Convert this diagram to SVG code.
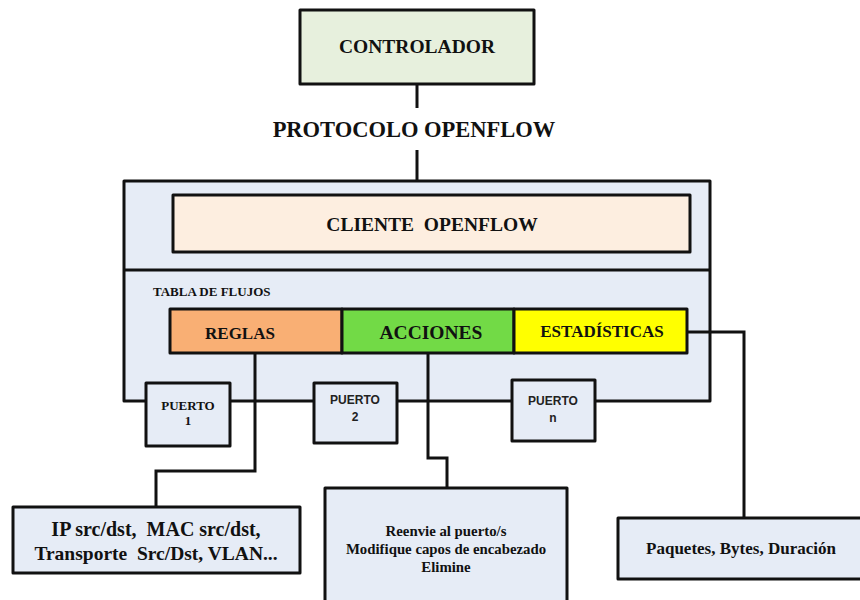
<svg xmlns="http://www.w3.org/2000/svg" width="860" height="600" viewBox="0 0 860 600">
  <style>
    .box { stroke: #111; stroke-width: 3; stroke-linejoin: round; }
    .wire { fill: none; stroke: #111; stroke-width: 3; }
    .tr { font-family: "Liberation Serif", "DejaVu Serif", serif; font-weight: bold; fill: #111; }
    .ar { font-family: "Liberation Sans", "DejaVu Sans", sans-serif; font-weight: bold; fill: #222; }
    .pale { fill: #e6ecf6; }
  </style>

  <rect width="860" height="600" fill="#ffffff"/>

  <!-- Controller -->
  <g id="controlador">
    <rect class="box" x="300" y="10" width="234" height="74" fill="#e7f0dd"/>
    <text class="tr" x="417" y="53" font-size="19.5" text-anchor="middle">CONTROLADOR</text>
  </g>

  <!-- Protocol label -->
  <g id="protocolo">
    <text class="tr" x="414" y="137" font-size="22.5" text-anchor="middle">PROTOCOLO OPENFLOW</text>
  </g>

  <!-- Switch body -->
  <g id="switch">
    <rect class="box pale" x="124" y="181" width="586" height="220"/>
    <line class="wire" x1="124" y1="270" x2="710" y2="270"/>
  </g>

  <g id="cliente">
    <rect class="box" x="173" y="195" width="517" height="57" fill="#fdeee0"/>
    <text class="tr" x="432" y="231" font-size="19.5" text-anchor="middle" xml:space="preserve">CLIENTE  OPENFLOW</text>
  </g>

  <g id="tabla">
    <text class="tr" x="153" y="296" font-size="13" text-anchor="start">TABLA DE FLUJOS</text>
    <rect class="box" x="170" y="309" width="172" height="44" fill="#f9af74"/>
    <rect class="box" x="342" y="309" width="172" height="44" fill="#72da46"/>
    <rect class="box" x="514" y="309" width="173" height="44" fill="#ffff00"/>
    <text class="tr" x="240" y="339" font-size="17" text-anchor="middle">REGLAS</text>
    <text class="tr" x="431" y="339" font-size="19.5" text-anchor="middle">ACCIONES</text>
    <text class="tr" x="602" y="337" font-size="17" text-anchor="middle">ESTADÍSTICAS</text>
  </g>

  <!-- Connectors -->
  <g id="conectores">
    <path class="wire" d="M417 84 V108"/>
    <path class="wire" d="M417 150 V181"/>
    <path class="wire" d="M255 353 V471 H156 V507"/>
    <path class="wire" d="M428 353 V458 H447 V488"/>
    <path class="wire" d="M687 332 H744 V518"/>
  </g>

  <!-- Ports -->
  <g id="puerto1">
    <rect class="box pale" x="146" y="383" width="84" height="63"/>
    <text class="tr" x="188" y="410" font-size="13" text-anchor="middle">PUERTO</text>
    <text class="tr" x="188" y="425" font-size="13" text-anchor="middle">1</text>
  </g>
  <g id="puerto2">
    <rect class="box pale" x="314" y="383" width="83" height="60"/>
    <text class="ar" x="355" y="404" font-size="12" text-anchor="middle">PUERTO</text>
    <text class="ar" x="355" y="421" font-size="12" text-anchor="middle">2</text>
  </g>
  <g id="puerton">
    <rect class="box pale" x="512" y="380" width="83" height="61"/>
    <text class="ar" x="553" y="405" font-size="12" text-anchor="middle">PUERTO</text>
    <text class="ar" x="553" y="422" font-size="12" text-anchor="middle">n</text>
  </g>

  <!-- Detail boxes -->
  <g id="reglas-detalle">
    <rect class="box pale" x="13" y="507" width="287" height="66"/>
    <text class="tr" x="156" y="536" font-size="20" text-anchor="middle" xml:space="preserve">IP src/dst,  MAC src/dst,</text>
    <text class="tr" x="156" y="560" font-size="19.5" text-anchor="middle" xml:space="preserve">Transporte  Src/Dst, VLAN...</text>
  </g>
  <g id="acciones-detalle">
    <rect class="box pale" x="325" y="488" width="242" height="120"/>
    <text class="tr" x="446" y="536" font-size="14.8" text-anchor="middle">Reenvie al puerto/s</text>
    <text class="tr" x="446" y="554" font-size="14.8" text-anchor="middle">Modifique capos de encabezado</text>
    <text class="tr" x="446" y="572" font-size="14.8" text-anchor="middle">Elimine</text>
  </g>
  <g id="estadisticas-detalle">
    <rect class="box pale" x="618" y="518" width="250" height="61"/>
    <text class="tr" x="741" y="554" font-size="17" text-anchor="middle">Paquetes, Bytes, Duración</text>
  </g>
</svg>
